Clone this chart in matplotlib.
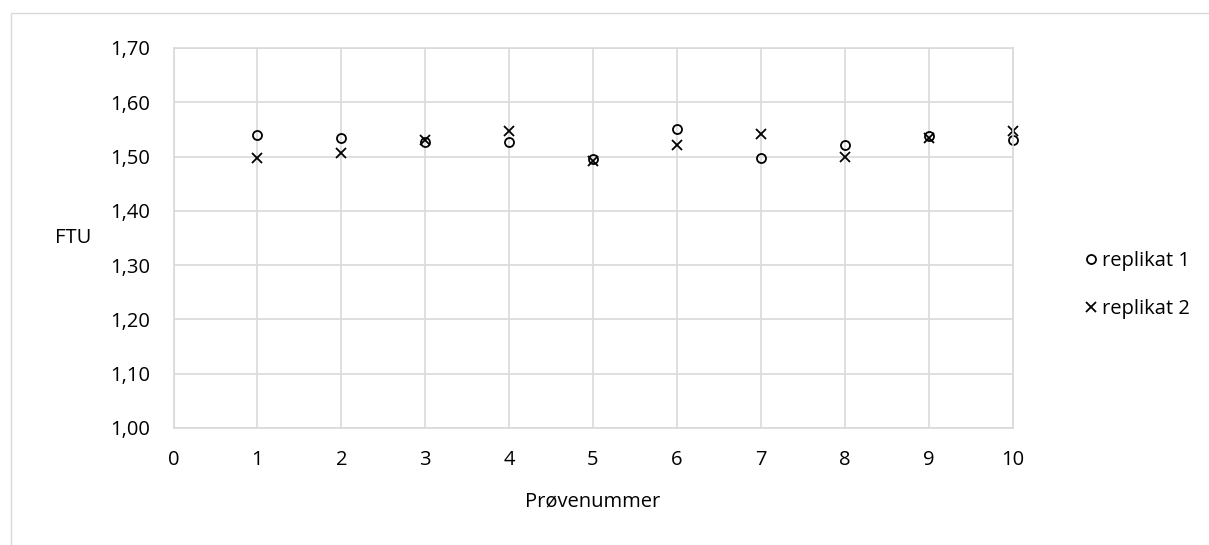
import matplotlib.pyplot as plt
from matplotlib.patches import Rectangle
from matplotlib.ticker import FuncFormatter

# data
prove = [1, 2, 3, 4, 5, 6, 7, 8, 9, 10]
replikat1 = [1.540, 1.534, 1.526, 1.526, 1.495, 1.551, 1.498, 1.522, 1.538, 1.530]
replikat2 = [1.498, 1.506, 1.530, 1.548, 1.492, 1.522, 1.542, 1.499, 1.534, 1.548]

plt.rcParams['font.family'] = ['Open Sans', 'DejaVu Sans']
grey = '#d9d9d9'
fs = 14.5

fig = plt.figure(figsize=(12.09, 5.45), dpi=100)
# chart border (cut off at right and bottom like in the original)
fig.patches.append(Rectangle((11/1209, -0.1), 1.2, 1 - 13/545 + 0.1,
                             transform=fig.transFigure, fill=False,
                             edgecolor=grey, linewidth=1))

ax = fig.add_axes([173.5/1209, 1 - 428/545, (1012.5-173.5)/1209, (428-48)/545])
ax.plot(prove, replikat1, 'o', markersize=6.5, markerfacecolor='none',
        markeredgecolor='black', markeredgewidth=1.3, label='replikat 1', clip_on=False)
ax.plot(prove, replikat2, 'x', markersize=6.5, color='black',
        markeredgewidth=1.3, label='replikat 2', clip_on=False)

ax.set_xlim(0, 10)
ax.set_ylim(1.0, 1.7)
ax.set_xticks(range(0, 11))
ax.set_yticks([1.0 + 0.1*i for i in range(8)])
ax.yaxis.set_major_formatter(FuncFormatter(lambda v, p: f'{v:.2f}'.replace('.', ',')))
ax.grid(True, color=grey, linewidth=1.2)
ax.set_axisbelow(True)
for s in ax.spines.values():
    s.set_color(grey)
    s.set_linewidth(1.2)
ax.tick_params(length=0, labelsize=fs, pad=16, colors='black')
ax.tick_params(axis='y', pad=17)

ax.set_xlabel('Prøvenummer', fontsize=fs, labelpad=15)
ax.set_ylabel('FTU', fontsize=fs, rotation=0, ha='center', va='center')
ax.yaxis.set_label_coords(-0.12, 0.5)

fig.legend(loc='center left', bbox_to_anchor=(1075/1209, 1 - 285/545),
           frameon=False, fontsize=fs, handlelength=0.55, handletextpad=0.3,
           labelspacing=1.35, borderpad=0)

plt.savefig('out.png', dpi=100)
